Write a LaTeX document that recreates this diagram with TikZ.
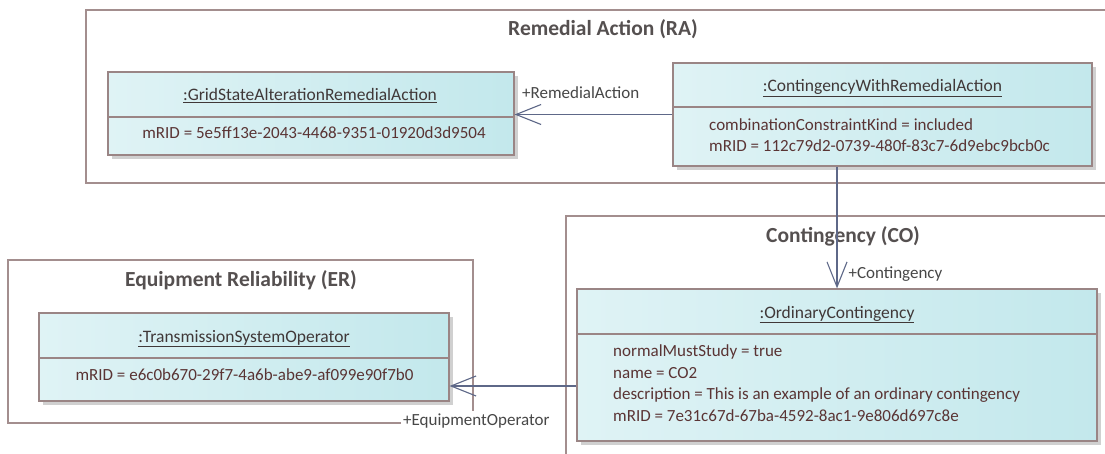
\documentclass[tikz,border=0pt]{standalone}
\usepackage{fontspec}
\setmainfont{Carlito}
\usetikzlibrary{arrows.meta, positioning, shadows}

\definecolor{frameline}{HTML}{A38E8E}
\definecolor{boxline}{HTML}{9A8585}
\definecolor{boxleft}{HTML}{DFF3F5}
\definecolor{boxright}{HTML}{C3E8EC}
\definecolor{attrtext}{HTML}{5A3434}
\definecolor{titletext}{HTML}{403838}
\definecolor{pkgtext}{HTML}{555050}
\definecolor{linkline}{HTML}{5E6888}

\tikzset{
  pkgframe/.style={draw=frameline, line width=1.2pt},
  pkgtitle/.style={font=\fontsize{21.5}{24}\selectfont\bfseries, text=pkgtext, inner sep=0pt},
  objbox/.style={draw=boxline, line width=1.2pt, left color=boxleft, right color=boxright,
    drop shadow={shadow xshift=4pt, shadow yshift=-4pt, fill=black!30, opacity=0.6}, inner sep=0pt},
  divider/.style={draw=boxline, line width=1.2pt},
  objtitle/.style={font=\fontsize{17.5}{20}\selectfont, text=titletext, inner sep=0pt},
  attr/.style={font=\fontsize{17}{21.5}\selectfont, text=attrtext, align=left, inner sep=0pt},
  assoc/.style={draw=linkline, line width=1.1pt, -{Straight Barb[length=25pt, width=20pt]}},
  rolelabel/.style={font=\fontsize{17}{20}\selectfont, text=black!72, inner sep=0pt},
}

\begin{document}
\begin{tikzpicture}[x=1pt, y=-1pt]
  \clip (0,0) rectangle (1105,454);
  \fill[white] (0,0) rectangle (1105,454);

  % --- Paquetes ---
  \draw[pkgframe] (1120,10) -| (86,183) -- (1120,183);
  \draw[pkgframe] (1120,216) -| (566,470);
  \draw[pkgframe] (8,260) rectangle (473,423);
  \node[pkgtitle, anchor=base] (ratitle) at (603,36) {Remedial Action (RA)};
  \node[pkgtitle, anchor=base] (cotitle) at (843,243) {Contingency (CO)};
  \node[pkgtitle, anchor=base] (ertitle) at (241,287) {Equipment Reliability (ER)};

  % --- Objetos ---
  \node[objbox, minimum width=406pt, minimum height=83pt] (gsara) at (311,113.5) {};
  \draw[divider] (gsara.west |- 0,117) -- (gsara.east |- 0,117);
  \node[objtitle, anchor=base] (gsaraname) at (310,101) {\underline{:GridStateAlterationRemedialAction}};
  \node[attr, anchor=base] (gsaraattr) at (314,139) {mRID = 5e5ff13e-2043-4468-9351-01920d3d9504};

  \node[objbox, minimum width=419pt, minimum height=103pt] (cwra) at (882.5,114.5) {};
  \draw[divider] (cwra.west |- 0,107) -- (cwra.east |- 0,107);
  \node[objtitle, anchor=base] (cwraname) at (882.5,92) {\underline{:ContingencyWithRemedialAction}};
  \node[attr, anchor=base west] (cwraattr) at (709,152) {combinationConstraintKind = included\\mRID = 112c79d2-0739-480f-83c7-6d9ebc9bcb0c};

  \node[objbox, minimum width=520pt, minimum height=152pt] (oc) at (837,365) {};
  \draw[divider] (oc.west |- 0,334) -- (oc.east |- 0,334);
  \node[objtitle, anchor=base] (ocname) at (837,318) {\underline{:OrdinaryContingency}};
  \node[attr, anchor=base west] (ocattr) at (613,421) {normalMustStudy = true\\name = CO2\\description = This is an example of an ordinary contingency\\mRID = 7e31c67d-67ba-4592-8ac1-9e806d697c8e};

  \node[objbox, minimum width=410pt, minimum height=88pt] (tso) at (244,357) {};
  \draw[divider] (tso.west |- 0,358) -- (tso.east |- 0,358);
  \node[objtitle, anchor=base] (tsoname) at (244,342) {\underline{:TransmissionSystemOperator}};
  \node[attr, anchor=base] (tsoattr) at (244.5,380) {mRID = e6c0b670-29f7-4a6b-abe9-af099e90f7b0};

  % --- Asociaciones ---
  \draw[assoc] (cwra.west) -- (cwra.west -| gsara.east)
    node[rolelabel, anchor=base west, pos=1, xshift=7pt, yshift=16pt] (ralabel) {+RemedialAction};
  \draw[assoc] (cwra.south -| oc.north) -- (oc.north)
    node[rolelabel, anchor=base west, pos=1, xshift=11pt, yshift=10pt] (colabel) {+Contingency};
  \draw[assoc] ([yshift=-21pt]oc.west) -- ([yshift=-21pt]oc.west -| tso.east);
  \node[rolelabel, anchor=base west, fill=white, inner sep=2pt] (eolabel) at (401,425) {+EquipmentOperator};

\end{tikzpicture}
\end{document}
